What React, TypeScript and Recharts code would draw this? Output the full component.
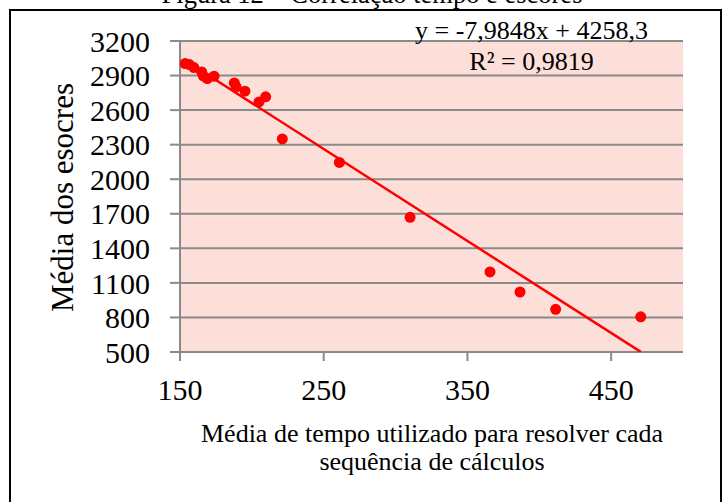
import React from "react";
import {
  ScatterChart, Scatter, XAxis, YAxis, CartesianGrid,
} from "recharts";

// tempo médio (x) e média dos escores (y)
const tempo = [153.5, 156.5, 159.7, 165.1, 166.2, 169.0, 173.7, 187.8, 189.0, 195.2, 205.0, 209.6, 221.2, 260.9, 310.1, 365.7, 386.6, 411.4, 470.6];
const escores = [3004, 2995, 2969, 2931, 2897, 2874, 2894, 2836, 2801, 2764, 2671, 2715, 2350, 2146, 1669, 1195, 1021, 871, 805];

// extremos da linha de tendência
const trendX = [153.5, 470.6];
const trendY = [3033, 501];

const xTicks = [150, 250, 350, 450];
const yTicks = [500, 800, 1100, 1400, 1700, 2000, 2300, 2600, 2900, 3200];

const points = tempo.map((t, i) => ({ x: t, y: escores[i] }));
const trend = trendX.map((t, i) => ({ x: t, y: trendY[i] }));

const SERIF = '"Liberation Serif", "Times New Roman", serif';
const GRAY = "#8a8a8a";

const Dot = (p: any) => <circle cx={p.cx} cy={p.cy} r={5.5} fill="#ff0000" />;

export default function App() {
  return (
    <div style={{ position: "absolute", left: 0, top: 0, width: 724, height: 502, background: "#fff", overflow: "hidden" }}>
      <ScatterChart width={724} height={502} margin={{ top: 41, right: 41, left: 0, bottom: 0 }}>
        <CartesianGrid vertical={false} stroke={GRAY} strokeWidth={2} fill="#FCDFD8" fillOpacity={1} />
        <XAxis
          type="number"
          dataKey="x"
          domain={[150, 500]}
          ticks={xTicks}
          interval={0}
          allowDataOverflow
          height={150}
          axisLine={{ stroke: GRAY, strokeWidth: 2 }}
          tickLine={{ stroke: GRAY, strokeWidth: 2 }}
          tickSize={9}
          tickMargin={18}
          tick={{ fill: "#000", fontSize: 30, fontFamily: SERIF }}
        />
        <YAxis
          type="number"
          dataKey="y"
          domain={[500, 3200]}
          ticks={yTicks}
          interval={0}
          allowDataOverflow
          width={180}
          axisLine={{ stroke: GRAY, strokeWidth: 2 }}
          tickLine={{ stroke: GRAY, strokeWidth: 2 }}
          tickSize={10}
          tickMargin={20}
          tick={{ fill: "#000", fontSize: 30, fontFamily: SERIF }}
        />
        <Scatter
          data={trend}
          line={{ stroke: "#ff0000", strokeWidth: 2.5 }}
          shape={() => <g />}
          isAnimationActive={false}
        />
        <Scatter data={points} fill="#ff0000" shape={Dot} isAnimationActive={false} />
      </ScatterChart>

      <svg width={724} height={502} style={{ position: "absolute", left: 0, top: 0, pointerEvents: "none" }}>
        <rect x={10} y={10} width={711} height={520} fill="none" stroke="#000" strokeWidth={2} />
        <text x={372} y={3} textAnchor="middle" fontSize={26.5} fontFamily={SERIF} fill="#000">
          Figura 12 – Correlação tempo e escores
        </text>
        <text x={531.5} y={39} textAnchor="middle" fontSize={26} fontFamily={SERIF} fill="#000">
          y = -7,9848x + 4258,3
        </text>
        <text x={531.5} y={70} textAnchor="middle" fontSize={26} fontFamily={SERIF} fill="#000">
          R² = 0,9819
        </text>
        <text x={73} y={197.5} transform="rotate(-90 73 197.5)" textAnchor="middle" fontSize={31} fontFamily={SERIF} fill="#000">
          Média dos esocres
        </text>
        <text x={432} y={442} textAnchor="middle" fontSize={26} fontFamily={SERIF} fill="#000">
          Média de tempo utilizado para resolver cada
        </text>
        <text x={432} y={470} textAnchor="middle" fontSize={26} fontFamily={SERIF} fill="#000">
          sequência de cálculos
        </text>
      </svg>
    </div>
  );
}
